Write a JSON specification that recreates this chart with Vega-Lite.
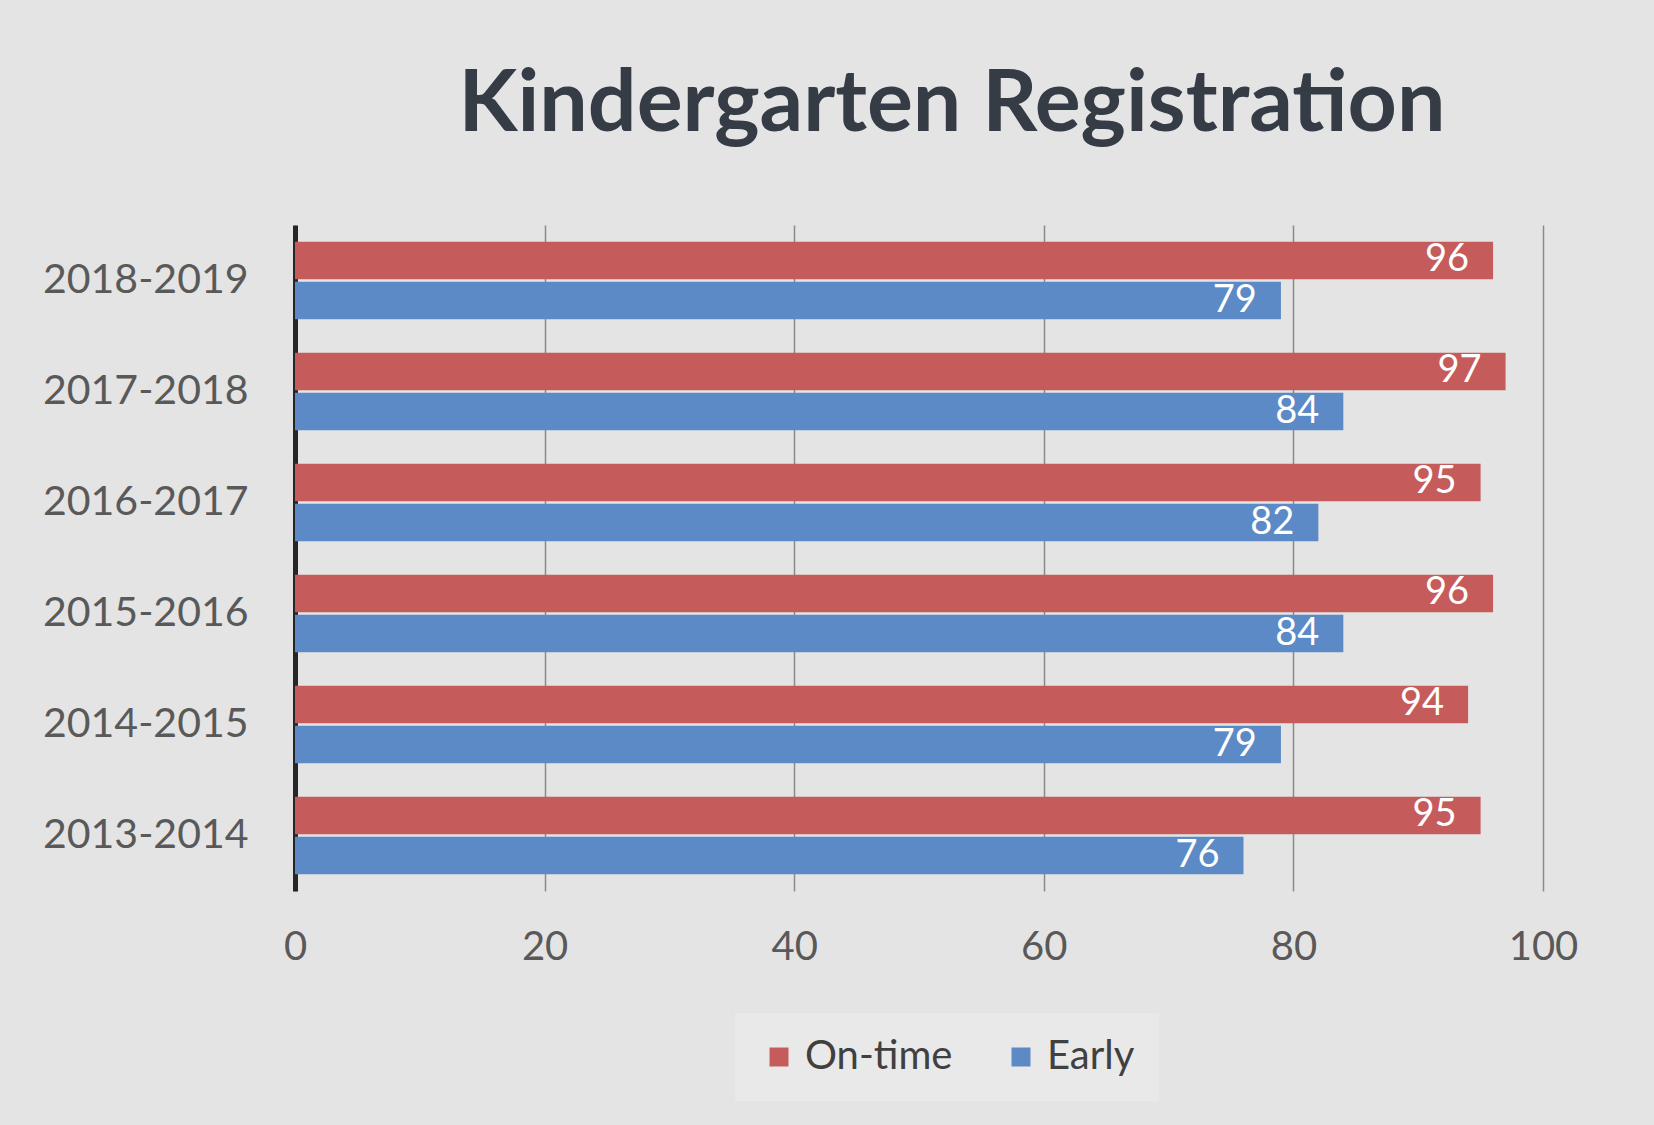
{
  "$schema": "https://vega.github.io/schema/vega-lite/v6.json",
  "width": 1248,
  "height": 666,
  "autosize": {"type": "none"},
  "padding": {"left": 295, "top": 225, "right": 111, "bottom": 234},
  "background": "#E4E4E4",
  "title": {
    "text": "Kindergarten Registration",
    "font": "Lato",
    "fontSize": 86,
    "fontWeight": "bold",
    "color": "#353C45",
    "anchor": "middle",
    "baseline": "alphabetic",
    "offset": 8,
    "dx": 33
  },
  "data": {
    "values": [
      {"season": "2018-2019", "series": "On-time", "value": 96},
      {"season": "2018-2019", "series": "Early", "value": 79},
      {"season": "2017-2018", "series": "On-time", "value": 97},
      {"season": "2017-2018", "series": "Early", "value": 84},
      {"season": "2016-2017", "series": "On-time", "value": 95},
      {"season": "2016-2017", "series": "Early", "value": 82},
      {"season": "2015-2016", "series": "On-time", "value": 96},
      {"season": "2015-2016", "series": "Early", "value": 84},
      {"season": "2014-2015", "series": "On-time", "value": 94},
      {"season": "2014-2015", "series": "Early", "value": 79},
      {"season": "2013-2014", "series": "On-time", "value": 95},
      {"season": "2013-2014", "series": "Early", "value": 76}
    ]
  },
  "encoding": {
    "y": {
      "field": "season",
      "type": "nominal",
      "sort": "descending",
      "scale": {"paddingInner": 0.3, "paddingOuter": 0.15},
      "axis": {
        "title": null,
        "labelFont": "Lato",
        "labelFontSize": 41,
        "labelColor": "#595959",
        "labelPadding": 47,
        "labelLimit": 400,
        "ticks": false,
        "domain": true,
        "domainColor": "#262626",
        "domainWidth": 5,
        "grid": false
      }
    },
    "yOffset": {
      "field": "series",
      "type": "nominal",
      "sort": ["On-time", "Early"],
      "scale": {"paddingInner": 0.06}
    },
    "x": {
      "field": "value",
      "type": "quantitative",
      "scale": {"domain": [0, 100]},
      "axis": {
        "title": null,
        "values": [0, 20, 40, 60, 80, 100],
        "grid": true,
        "gridColor": "#8A8A8A",
        "gridWidth": 1.5,
        "domain": false,
        "ticks": false,
        "labelFlush": false,
        "labelFont": "Lato",
        "labelFontSize": 40,
        "labelColor": "#595959",
        "labelPadding": 36
      }
    }
  },
  "layer": [
    {
      "mark": {"type": "bar"},
      "encoding": {
        "color": {
          "field": "series",
          "type": "nominal",
          "sort": ["On-time", "Early"],
          "scale": {"domain": ["On-time", "Early"], "range": ["#C65B5B", "#5B8AC6"]},
          "legend": {
            "title": null,
            "orient": "none",
            "legendX": 440,
            "legendY": 788,
            "direction": "horizontal",
            "fillColor": "#E9E9E9",
            "padding": 24,
            "labelFont": "Lato",
            "labelFontSize": 40,
            "labelColor": "#404040",
            "symbolType": "square",
            "symbolSize": 360,
            "symbolStrokeWidth": 0,
            "columnPadding": 48,
            "labelOffset": 6
          }
        }
      }
    },
    {
      "mark": {
        "type": "text",
        "align": "right",
        "baseline": "middle",
        "dx": -24,
        "color": "white",
        "font": "Lato",
        "fontSize": 38
      },
      "encoding": {
        "text": {"field": "value", "type": "quantitative"}
      }
    }
  ],
  "config": {
    "view": {"stroke": null}
  }
}
